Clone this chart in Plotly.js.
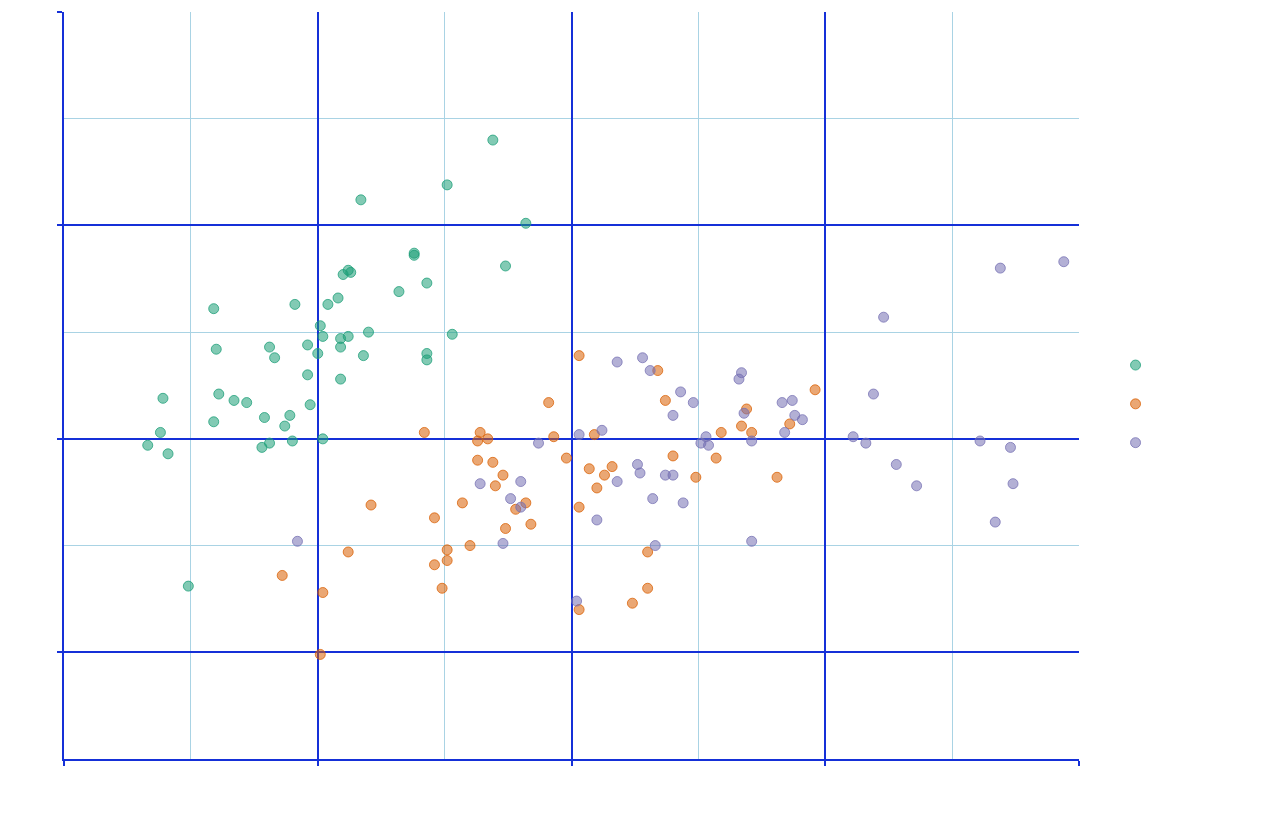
<!DOCTYPE html>
<html>
<head>
<meta charset="utf-8">
<script src="https://cdn.plot.ly/plotly-3.0.1.min.js"></script>
<style>html,body{margin:0;padding:0;background:#fff;}#chart{width:1280px;height:832px;}</style>
</head>
<body>
<div id="chart"></div>
<script>
const seriesNames = ["setosa", "versicolor", "virginica"];
const seriesFill = ["rgba(27,158,119,0.55)", "rgba(217,95,2,0.55)", "rgba(117,112,179,0.55)"];
const seriesEdge = ["rgba(27,158,119,0.75)", "rgba(217,95,2,0.75)", "rgba(117,112,179,0.75)"];

const setosaX = [5.38,5.38,5.13,5.12,5.10,5.43,5.32,4.59,4.91,5.04,5.08,5.01,5.02,5.09,5.12,5.20,5.53,4.60,4.81,4.83,4.96,5.00,5.09,5.18,5.43,5.43,4.96,5.09,4.39,4.61,4.67,4.72,4.97,4.79,4.89,4.59,4.87,4.38,4.33,4.41,4.78,4.81,4.90,5.02,5.69,5.51,5.17,5.82,5.74,4.49];
const setosaY = [3.87,3.86,3.78,3.79,3.77,3.73,3.69,3.61,3.63,3.63,3.66,3.53,3.48,3.47,3.48,3.50,3.49,3.42,3.43,3.38,3.44,3.40,3.43,3.39,3.40,3.37,3.30,3.28,3.19,3.21,3.18,3.17,3.16,3.10,3.11,3.08,3.06,3.03,2.97,2.93,2.96,2.98,2.99,3.00,4.40,4.19,4.12,4.01,3.81,2.31];

const versicolorX = [5.42,5.21,5.46,5.57,5.12,5.51,5.51,5.46,4.86,5.49,5.02,5.01,6.03,6.34,5.91,6.37,5.64,5.67,5.63,5.93,6.09,5.98,5.63,5.69,5.73,5.70,6.40,6.07,6.16,6.13,6.10,6.49,5.82,5.78,6.03,5.84,5.74,5.60,6.30,6.30,6.24,6.03,6.96,6.69,6.59,6.67,6.71,6.86,6.57,6.81];
const versicolorY = [3.03,2.69,2.63,2.70,2.47,2.48,2.43,2.41,2.36,2.30,2.28,1.99,3.39,3.32,3.17,3.18,3.03,3.00,2.99,3.01,3.02,2.91,2.90,2.89,2.83,2.78,2.92,2.86,2.87,2.83,2.77,2.82,2.70,2.67,2.68,2.60,2.58,2.50,2.47,2.30,2.23,2.20,3.23,3.14,3.03,3.06,3.03,3.07,2.91,2.82];

const virginicaX = [6.18,6.28,6.31,6.43,6.48,6.40,6.03,6.12,5.87,6.53,6.51,6.54,6.26,6.27,6.18,6.37,6.40,5.64,5.80,5.76,5.80,6.32,6.44,6.10,5.73,6.33,6.02,6.67,6.66,6.83,6.87,6.68,6.88,6.91,6.84,6.71,6.71,7.69,7.94,7.23,7.19,7.11,7.16,7.61,7.73,7.28,7.36,7.74,7.67,4.92];
const virginicaY = [3.36,3.38,3.32,3.22,3.17,3.11,3.02,3.04,2.98,3.01,2.98,2.97,2.88,2.84,2.80,2.83,2.83,2.79,2.80,2.72,2.68,2.72,2.70,2.62,2.51,2.50,2.24,3.31,3.28,3.17,3.18,3.12,3.11,3.09,3.03,2.99,2.52,3.80,3.83,3.57,3.21,3.01,2.98,2.99,2.96,2.88,2.78,2.79,2.61,2.52];

const xTickVals = [4, 5, 6, 7, 8];
const xTickText = ["4", "5", "6", "7", "8"];
const yTickVals = [2, 3, 4, 5];
const yTickText = ["2", "3", "4", "5"];

const xs = [setosaX, versicolorX, virginicaX];
const ys = [setosaY, versicolorY, virginicaY];

const traces = seriesNames.map((n, i) => ({
  type: "scatter",
  mode: "markers",
  name: n,
  legendgroup: n,
  x: xs[i],
  y: ys[i],
  marker: {
    size: 10,
    color: seriesFill[i],
    line: {width: 1, color: seriesEdge[i]}
  }
}));

const majorBlue = "#1530d8";
const minorBlue = "#a9d3e4";

const layout = {
  width: 1280,
  height: 832,
  margin: {l: 64, r: 201, t: 12, b: 73, autoexpand: false},
  paper_bgcolor: "#ffffff",
  plot_bgcolor: "#ffffff",
  showlegend: true,
  legend: {
    x: 1.036, y: 0.550, yanchor: "top",
    traceorder: "grouped",
    tracegroupgap: 15,
    font: {color: "#ffffff", size: 16, family: "Open Sans"},
    bgcolor: "rgba(0,0,0,0)"
  },
  xaxis: {
    range: [4, 8],
    tickvals: xTickVals,
    ticktext: xTickText,
    tickfont: {color: "#ffffff"},
    showgrid: true,
    gridcolor: majorBlue,
    gridwidth: 2,
    minor: {dtick: 0.5, tick0: 4, showgrid: true, gridcolor: minorBlue, gridwidth: 1},
    showline: true, linecolor: majorBlue, linewidth: 2,
    ticks: "outside", ticklen: 5, tickwidth: 2, tickcolor: majorBlue,
    zeroline: false
  },
  yaxis: {
    range: [1.5, 5],
    tickvals: yTickVals,
    ticktext: yTickText,
    tickfont: {color: "#ffffff"},
    showgrid: true,
    gridcolor: majorBlue,
    gridwidth: 2,
    minor: {dtick: 0.5, tick0: 1.5, showgrid: true, gridcolor: minorBlue, gridwidth: 1},
    showline: true, linecolor: majorBlue, linewidth: 2,
    ticks: "outside", ticklen: 5, tickwidth: 2, tickcolor: majorBlue,
    zeroline: false
  }
};

Plotly.newPlot("chart", traces, layout, {displayModeBar: false});
</script>
</body>
</html>
